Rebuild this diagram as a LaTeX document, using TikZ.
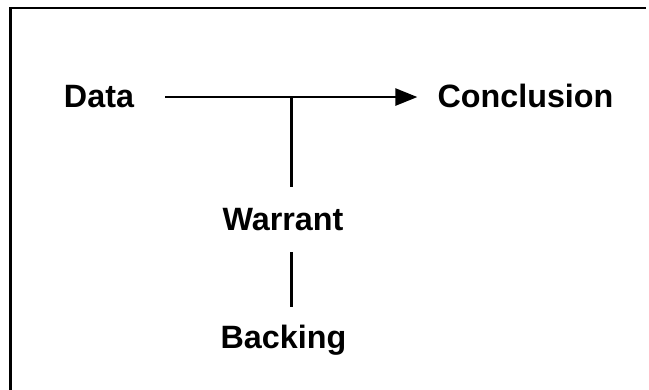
\documentclass[tikz,border=0pt]{standalone}
\usepackage{fontspec}
\setmainfont{Liberation Sans}
\usetikzlibrary{arrows.meta}
\begin{document}
\begin{tikzpicture}[x=1pt,y=1pt,
  lbl/.style={anchor=base,inner sep=0pt,font=\fontsize{32.3}{38}\selectfont\bfseries},
  conn/.style={line width=2.6pt},
  frame/.style={line width=2.5pt}]
\useasboundingbox (0,0) rectangle (649,390);
\draw[frame] (10.3,0) -- (10.3,382.2) -- (646,382.2);
\node[lbl] (data) at (99,282) {Data};
\node[lbl] (concl) at (525.5,282) {Conclusion};
\node[lbl] (warrant) at (283,159.3) {Warrant};
\node[lbl] (backing) at (283.5,41) {Backing};
\coordinate (j) at (291.5,293);
\draw[conn,-{Triangle[length=22pt,width=17pt]},shorten <=31pt,shorten >=20pt] (data.east) -- (concl.west |- data.east);
\draw[conn,line width=2.4pt,shorten >=21.5pt] (j) -- (j |- warrant.north);
\draw[conn,line width=2.4pt,shorten <=21pt,shorten >=18pt] (warrant.south -| j) -- (backing.north -| j);
\end{tikzpicture}
\end{document}
